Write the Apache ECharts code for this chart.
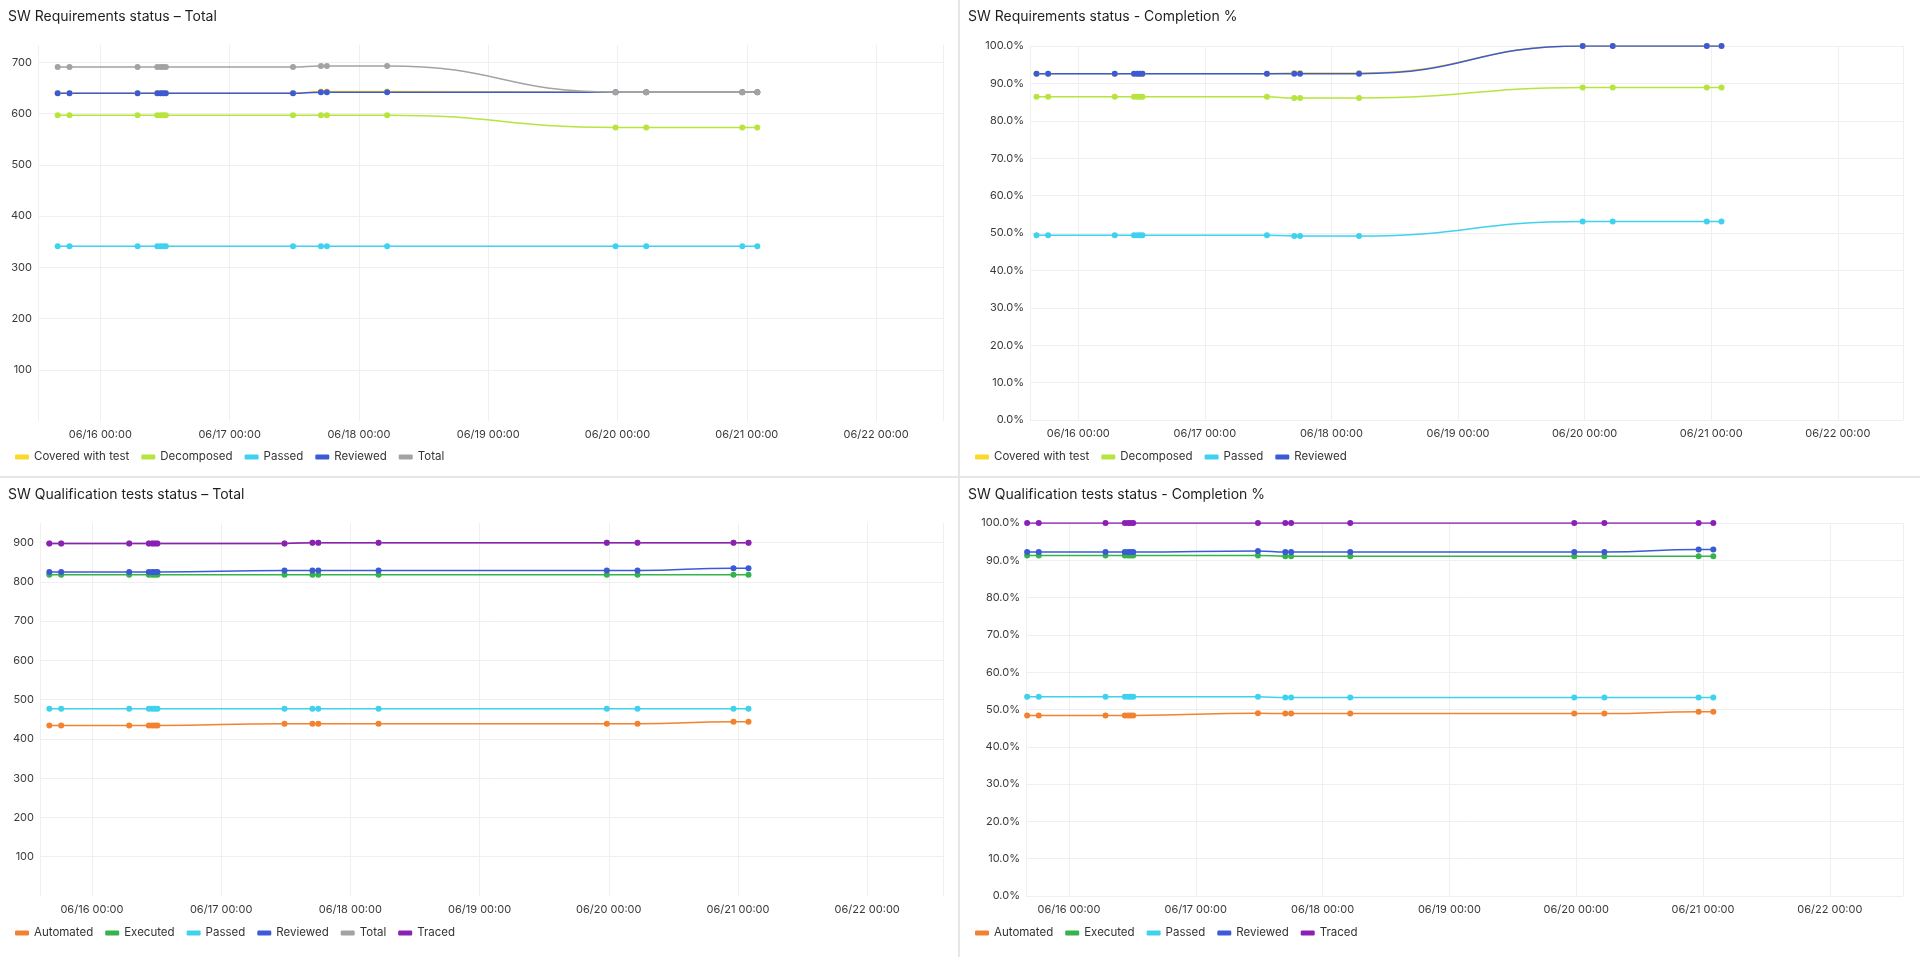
<!DOCTYPE html>
<html>
<head>
<meta charset="utf-8">
<title>SW status</title>
<script src="https://cdn.jsdelivr.net/npm/echarts@6/dist/echarts.min.js"></script>
<style>
  html, body { margin: 0; padding: 0; background: #e6e6e6; }
  .panel { position: absolute; background: #fff; }
  #reqTotal { left: 0; top: 0; width: 958px; height: 476px; }
  #reqPct { left: 960px; top: 0; width: 960px; height: 476px; }
  #qaTotal { left: 0; top: 478px; width: 958px; height: 479px; }
  #qaPct { left: 960px; top: 478px; width: 960px; height: 479px; }
</style>
</head>
<body>
<div class="panel" id="reqTotal"></div>
<div class="panel" id="reqPct"></div>
<div class="panel" id="qaTotal"></div>
<div class="panel" id="qaPct"></div>
<script>
// sample times (same for all panels)
var times = ['2024-06-15 16:05', '2024-06-15 18:17', '2024-06-16 06:55', '2024-06-16 10:34', '2024-06-16 11:11',
  '2024-06-16 11:41', '2024-06-16 12:10', '2024-06-17 11:46', '2024-06-17 16:57', '2024-06-17 18:03',
  '2024-06-18 05:14', '2024-06-19 23:38', '2024-06-20 05:20', '2024-06-20 23:10', '2024-06-21 01:57'];

// SW requirements, counts
var reqNames = ['Covered with test', 'Decomposed', 'Passed', 'Reviewed', 'Total'];
var reqCovered = [640, 640, 640, 640, 640, 640, 640, 640, 643, 643, 643, 642, 642, 642, 642];
var reqDecomposed = [597, 597, 597, 597, 597, 597, 597, 597, 597, 597, 597, 573, 573, 573, 573];
var reqPassed = [341, 341, 341, 341, 341, 341, 341, 341, 341, 341, 341, 341, 341, 341, 341];
var reqReviewed = [640, 640, 640, 640, 640, 640, 640, 640, 642, 642, 642, 642, 642, 642, 642];
var reqTotal = [691, 691, 691, 691, 691, 691, 691, 691, 693, 693, 693, 642, 642, 642, 642];

// SW requirements, completion %
var reqPctNames = ['Covered with test', 'Decomposed', 'Passed', 'Reviewed'];
var reqCoveredPct = [92.6, 92.6, 92.6, 92.6, 92.6, 92.6, 92.6, 92.6, 92.8, 92.8, 92.8, 100, 100, 100, 100];
var reqDecomposedPct = [86.4, 86.4, 86.4, 86.4, 86.4, 86.4, 86.4, 86.4, 86.1, 86.1, 86.1, 88.9, 88.9, 88.9, 88.9];
var reqPassedPct = [49.4, 49.4, 49.4, 49.4, 49.4, 49.4, 49.4, 49.4, 49.2, 49.2, 49.2, 53.1, 53.1, 53.1, 53.1];
var reqReviewedPct = [92.6, 92.6, 92.6, 92.6, 92.6, 92.6, 92.6, 92.6, 92.6, 92.6, 92.6, 100, 100, 100, 100];

// SW qualification tests, counts
var qaNames = ['Automated', 'Executed', 'Passed', 'Reviewed', 'Total', 'Traced'];
var qaAutomated = [434, 434, 434, 434, 434, 434, 434, 439, 439, 439, 439, 439, 439, 444, 444];
var qaExecuted = [818, 818, 818, 818, 818, 818, 818, 818, 818, 818, 818, 818, 818, 818, 818];
var qaPassed = [477, 477, 477, 477, 477, 477, 477, 477, 477, 477, 477, 477, 477, 477, 477];
var qaReviewed = [825, 825, 825, 825, 825, 825, 825, 829, 829, 829, 829, 829, 829, 835, 835];
var qaTotal = [898, 898, 898, 898, 898, 898, 898, 898, 900, 900, 900, 900, 900, 900, 900];
var qaTraced = [898, 898, 898, 898, 898, 898, 898, 898, 900, 900, 900, 900, 900, 900, 900];

// SW qualification tests, completion %
var qaPctNames = ['Automated', 'Executed', 'Passed', 'Reviewed', 'Traced'];
var qaAutomatedPct = [48.4, 48.4, 48.4, 48.4, 48.4, 48.4, 48.4, 49.0, 48.9, 48.9, 48.9, 48.9, 48.9, 49.4, 49.4];
var qaExecutedPct = [91.3, 91.3, 91.3, 91.3, 91.3, 91.3, 91.3, 91.3, 91.1, 91.1, 91.1, 91.1, 91.1, 91.1, 91.1];
var qaPassedPct = [53.4, 53.4, 53.4, 53.4, 53.4, 53.4, 53.4, 53.4, 53.2, 53.2, 53.2, 53.2, 53.2, 53.2, 53.2];
var qaReviewedPct = [92.2, 92.2, 92.2, 92.2, 92.2, 92.2, 92.2, 92.5, 92.2, 92.2, 92.2, 92.2, 92.2, 92.9, 92.9];
var qaTracedPct = [100, 100, 100, 100, 100, 100, 100, 100, 100, 100, 100, 100, 100, 100, 100];

var colors = {
  'Covered with test': '#f9d92a',
  'Decomposed': '#b8e43e',
  'Passed': '#3fd2ee',
  'Reviewed': '#3c5ad6',
  'Total': '#a3a3a3',
  'Automated': '#f2822f',
  'Executed': '#36b44a',
  'Traced': '#8c1fb4'
};

var DAY = 24 * 3600 * 1000;
var FONT = 'Inter, "Noto Sans", sans-serif';

function toTs(s) {
  var p = s.split(/[- :]/).map(Number);
  return new Date(p[0], p[1] - 1, p[2], p[3], p[4]).getTime();
}

function makeChart(id, title, names, values, opt) {
  var chart = echarts.init(document.getElementById(id));
  var series = names.map(function (name, i) {
    return {
      name: name,
      type: 'line',
      smooth: true,
      symbol: 'circle',
      symbolSize: 6,
      showAllSymbol: true,
      color: colors[name],
      lineStyle: {width: 1.5},
      emphasis: {disabled: true},
      data: times.map(function (t, k) { return [toTs(t), values[i][k]]; })
    };
  });
  chart.setOption({
    animation: false,
    textStyle: {fontFamily: FONT},
    title: {
      text: title, left: 3, top: 5,
      textStyle: {fontSize: 14, fontWeight: 'normal', color: '#1f1f1f', fontFamily: FONT}
    },
    legend: {
      data: names, left: 10, top: opt.legendTop,
      icon: 'roundRect', itemWidth: 14, itemHeight: 5, itemGap: 12,
      textStyle: {fontSize: 11.5, color: '#333', fontFamily: FONT}
    },
    grid: opt.grid,
    xAxis: {
      type: 'time',
      min: toTs(opt.xMin), max: toTs(opt.xMax),
      minInterval: DAY, maxInterval: DAY,
      axisLine: {show: false}, axisTick: {show: false},
      splitLine: {show: true, lineStyle: {color: '#efefef'}},
      axisLabel: {formatter: '{MM}/{dd} {HH}:{mm}', color: '#3a3a3a', fontSize: 11, margin: 8, fontFamily: FONT}
    },
    yAxis: opt.yAxis,
    series: series
  });
}

function countAxis(max) {
  return {
    type: 'value', min: 0, max: max, interval: 100,
    axisLine: {show: false}, axisTick: {show: false},
    splitLine: {lineStyle: {color: '#efefef'}, showMinLine: false, showMaxLine: false},
    axisLabel: {color: '#3a3a3a', fontSize: 11, margin: 6, showMinLabel: false, showMaxLabel: false, fontFamily: FONT}
  };
}

function pctAxis() {
  return {
    type: 'value', min: 0, max: 100, interval: 10,
    axisLine: {show: false}, axisTick: {show: false},
    splitLine: {lineStyle: {color: '#efefef'}},
    axisLabel: {
      color: '#3a3a3a', fontSize: 11, margin: 6, fontFamily: FONT,
      formatter: function (v) { return v.toFixed(1) + '%'; }
    }
  };
}

makeChart('reqTotal', 'SW Requirements status \u2013 Total', reqNames,
  [reqCovered, reqDecomposed, reqPassed, reqReviewed, reqTotal], {
    grid: {left: 38, right: 15, top: 45, bottom: 55},
    xMin: '2024-06-15 12:26', xMax: '2024-06-22 12:25',
    yAxis: countAxis(734), legendTop: 446
  });

makeChart('reqPct', 'SW Requirements status - Completion %', reqPctNames,
  [reqCoveredPct, reqDecomposedPct, reqPassedPct, reqReviewedPct], {
    grid: {left: 70, right: 17, top: 46, bottom: 56},
    xMin: '2024-06-15 14:51', xMax: '2024-06-22 12:22',
    yAxis: pctAxis(), legendTop: 446
  });

makeChart('qaTotal', 'SW Qualification tests status \u2013 Total', qaNames,
  [qaAutomated, qaExecuted, qaPassed, qaReviewed, qaTotal, qaTraced], {
    grid: {left: 40, right: 15, top: 45, bottom: 61},
    xMin: '2024-06-15 14:21', xMax: '2024-06-22 14:05',
    yAxis: countAxis(950), legendTop: 444
  });

makeChart('qaPct', 'SW Qualification tests status - Completion %', qaPctNames,
  [qaAutomatedPct, qaExecutedPct, qaPassedPct, qaReviewedPct, qaTracedPct], {
    grid: {left: 66, right: 17, top: 45, bottom: 61},
    xMin: '2024-06-15 15:52', xMax: '2024-06-22 13:51',
    yAxis: pctAxis(), legendTop: 444
  });
</script>
</body>
</html>
